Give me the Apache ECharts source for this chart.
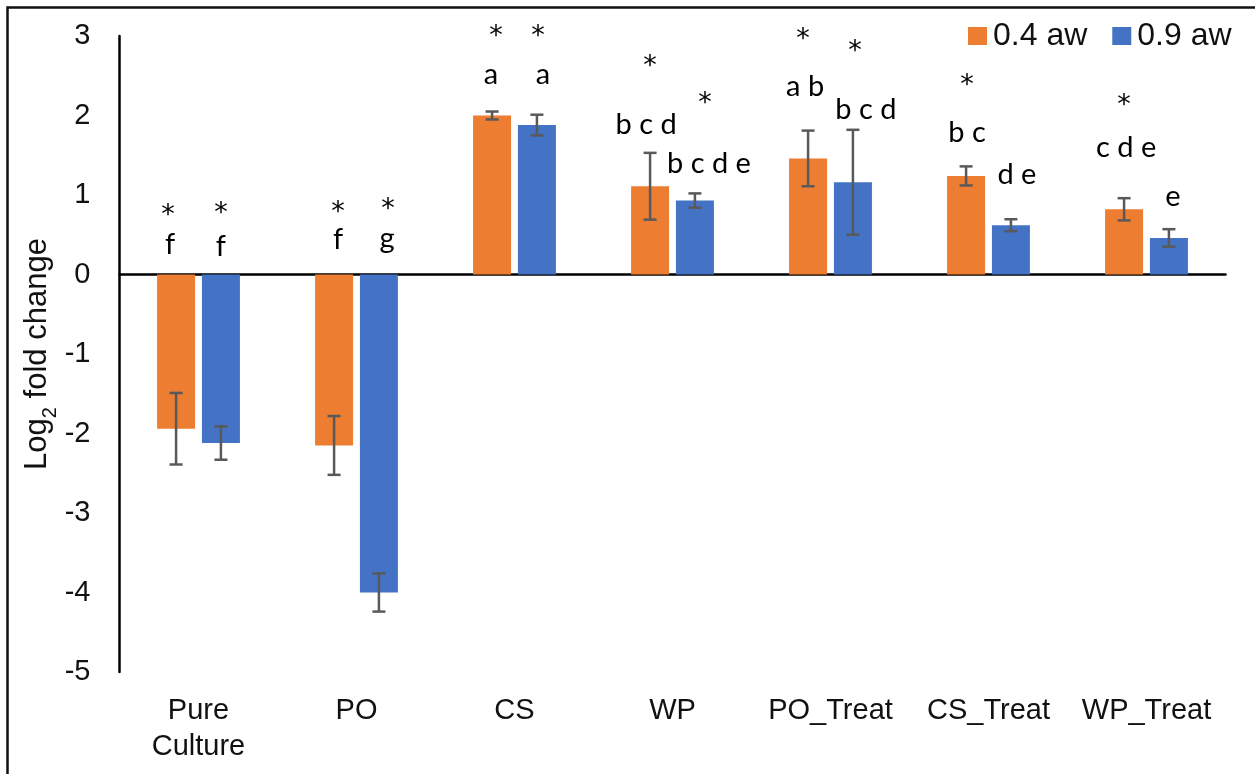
<!DOCTYPE html>
<html>
<head>
<meta charset="utf-8">
<script src="https://cdn.jsdelivr.net/npm/echarts@6/dist/echarts.min.js"></script>
<style>
  html, body { margin: 0; padding: 0; background: #fff; }
  #chart { width: 1255px; height: 774px; }
</style>
</head>
<body>
<div id="chart"></div>
<script>
// Groups on the x axis
const categories = ['Pure\nCulture', 'PO', 'CS', 'WP', 'PO_Treat', 'CS_Treat', 'WP_Treat'];
const seriesNames = ['0.4 aw', '0.9 aw'];

// Mean log2 fold change per group
const mean04 = [-1.94, -2.15, 2.00, 1.11, 1.46, 1.24, 0.82];
const mean09 = [-2.12, -4.00, 1.88, 0.93, 1.16, 0.62, 0.46];

// Error bar half-lengths
const err04 = [0.45, 0.37, 0.05, 0.42, 0.35, 0.12, 0.14];
const err09 = [0.21, 0.24, 0.13, 0.09, 0.66, 0.075, 0.11];

// Significance letters and asterisks above each bar
const letters04 = ['f', 'f', 'a', 'b c d', 'a b', 'b c', 'c d e'];
const letters09 = ['f', 'g', 'a', 'b c d e', 'b c d', 'd e', 'e'];
const star04 = ['*', '*', '*', '*', '*', '*', '*'];
const star09 = ['*', '*', '*', '*', '*', '', ''];

// Heights (log2 units) where those marks are written
const letterLevel04 = [0.37, 0.435, 2.52, 1.885, 2.36, 1.79, 1.60];
const letterLevel09 = [0.35, 0.45, 2.52, 1.40, 2.07, 1.25, 0.98];
const starLevel04 = [0.80, 0.84, 3.05, 2.67, 3.01, 2.43, 2.18];
const starLevel09 = [0.83, 0.88, 3.05, 2.21, 2.86, 0, 0];

// Y axis tick values
const yTicks = [3, 2, 1, 0, -1, -2, -3, -4, -5];

// Small horizontal nudges (px) for the annotation text
const letterNudge04 = [-6, 4, -1, -4, -3, 1, 2];
const letterNudge09 = [0, 8, 6, 14, 13, 6, 4];
const starNudge04 = [-8, 4, 4, 0, -5, 1, 0];
const starNudge09 = [0, 9, 1, 10, 2, 0, 0];

const ORANGE = '#ED7D31';
const BLUE = '#4472C4';
const BAR_W = 38;
const BAR_GAP = 0.18;
const HALF = BAR_W * (1 + BAR_GAP) / 2;
const AXIS_FONT = '"Liberation Sans", Arial, sans-serif';
const NOTE_FONT = 'Lato, "Open Sans", sans-serif';
const STAR_FONT = '"DejaVu Sans", sans-serif';

function errorBars(means, errs, side) {
  return {
    type: 'custom',
    xAxisIndex: 0,
    yAxisIndex: 0,
    z: 5,
    silent: true,
    data: means.map((m, i) => [i, m, errs[i]]),
    encode: { x: 0, y: 1 },
    renderItem(params, api) {
      const i = api.value(0), m = api.value(1), e = api.value(2);
      const hi = api.coord([i, m + e]);
      const lo = api.coord([i, m - e]);
      const x = hi[0] + side * HALF;
      const cap = 6.5;
      const st = { stroke: '#595959', lineWidth: 2.5 };
      return {
        type: 'group',
        children: [
          { type: 'line', shape: { x1: x, y1: hi[1], x2: x, y2: lo[1] }, style: st },
          { type: 'line', shape: { x1: x - cap, y1: hi[1], x2: x + cap, y2: hi[1] }, style: st },
          { type: 'line', shape: { x1: x - cap, y1: lo[1], x2: x + cap, y2: lo[1] }, style: st }
        ]
      };
    }
  };
}

function notes(letters, letterLevel, letterNudge, stars, starLevel, starNudge, side) {
  return {
    type: 'custom',
    xAxisIndex: 0,
    yAxisIndex: 0,
    z: 6,
    silent: true,
    data: letters.map((t, i) => [i, letterLevel[i], starLevel[i]]),
    encode: { x: 0, y: 1 },
    renderItem(params, api) {
      const i = params.dataIndex;
      const c = api.value(0);
      const pl = api.coord([c, api.value(1)]);
      const ps = api.coord([c, api.value(2)]);
      const xc = pl[0] + side * HALF;
      const children = [{
        type: 'text',
        x: xc + letterNudge[i], y: pl[1],
        style: {
          text: letters[i], fill: '#000',
          font: '29px ' + NOTE_FONT,
          align: 'center', verticalAlign: 'middle'
        }
      }];
      if (stars[i]) {
        children.push({
          type: 'text',
          x: xc + starNudge[i], y: ps[1] + 5,
          style: {
            text: stars[i], fill: '#000',
            font: '27px ' + STAR_FONT,
            align: 'center', verticalAlign: 'middle'
          }
        });
      }
      return { type: 'group', children };
    }
  };
}

const chart = echarts.init(document.getElementById('chart'), null, { renderer: 'canvas' });

chart.setOption({
  animation: false,
  backgroundColor: '#fff',
  graphic: [{
    type: 'rect',
    shape: { x: 7.5, y: 7.5, width: 1270, height: 790 },
    style: { fill: 'none', stroke: '#111', lineWidth: 2.5 },
    silent: true
  }],
  legend: {
    data: seriesNames,
    icon: 'rect',
    left: 968,
    top: 18,
    padding: 0,
    itemWidth: 19,
    itemHeight: 18,
    itemGap: 25,
    textStyle: { fontFamily: AXIS_FONT, fontSize: 32, color: '#111', lineHeight: 36, padding: [0, 0, 0, 1] }
  },
  grid: { left: 119.5, right: 29.5, top: 36, bottom: 102, containLabel: false },
  xAxis: [{
    type: 'category',
    data: categories,
    axisLine: { onZero: true, lineStyle: { color: '#000', width: 2.5 } },
    axisTick: { show: false },
    axisLabel: { show: false },
    splitLine: { show: false }
  }, {
    type: 'category',
    data: categories,
    position: 'bottom',
    axisLine: { show: false, onZero: false },
    axisTick: { show: false },
    axisLabel: {
      interval: 0,
      hideOverlap: false,
      margin: 21,
      fontFamily: AXIS_FONT, fontSize: 29, color: '#111', lineHeight: 36
    },
    splitLine: { show: false }
  }],
  yAxis: {
    type: 'value',
    min: Math.min(...yTicks),
    max: Math.max(...yTicks),
    interval: 1,
    name: '{a|Log}{s|2}{a| fold change}',
    nameLocation: 'middle',
    nameGap: 65,
    nameMoveOverlap: false,
    nameRotate: 90,
    nameTextStyle: {
      rich: {
        a: { fontFamily: AXIS_FONT, fontSize: 31, color: '#111', lineHeight: 34 },
        s: { fontFamily: AXIS_FONT, fontSize: 20, color: '#111', verticalAlign: 'bottom', lineHeight: 34, padding: [0, 0, -6, 0] }
      }
    },
    axisLine: { show: true, lineStyle: { color: '#000', width: 2.5 } },
    axisTick: { show: false },
    splitLine: { show: false },
    axisLabel: { margin: 29, fontFamily: AXIS_FONT, fontSize: 29, color: '#111' }
  },
  series: [
    {
      name: seriesNames[0], type: 'bar', data: mean04,
      barWidth: BAR_W, barGap: (BAR_GAP * 100) + '%',
      itemStyle: { color: ORANGE }
    },
    {
      name: seriesNames[1], type: 'bar', data: mean09,
      barWidth: BAR_W, barGap: (BAR_GAP * 100) + '%',
      itemStyle: { color: BLUE }
    },
    errorBars(mean04, err04, -1),
    errorBars(mean09, err09, 1),
    notes(letters04, letterLevel04, letterNudge04, star04, starLevel04, starNudge04, -1),
    notes(letters09, letterLevel09, letterNudge09, star09, starLevel09, starNudge09, 1)
  ]
});
</script>
</body>
</html>
